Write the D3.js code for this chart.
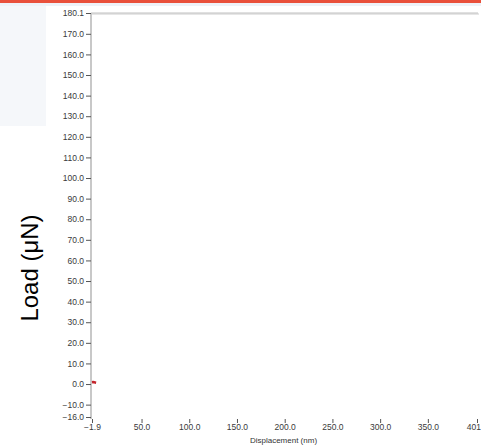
<!DOCTYPE html>
<html>
<head>
<meta charset="utf-8">
<script src="https://cdn.jsdelivr.net/npm/d3@7"></script>
<style>
  body { margin: 0; background: #fff; }
  svg { display: block; }
</style>
</head>
<body>
<svg id="chart" width="481" height="448"></svg>
<script>
// tick values as printed on the instrument plot
var yTicks = [-16.0, -10.0, 0.0, 10.0, 20.0, 30.0, 40.0, 50.0, 60.0, 70.0, 80.0, 90.0,
              100.0, 110.0, 120.0, 130.0, 140.0, 150.0, 160.0, 170.0, 180.1];
var xTicks = [-1.9, 50.0, 100.0, 150.0, 200.0, 250.0, 300.0, 350.0, 401.5];

// the only data visible: a few load points right at the origin
var displacement = [-1.9, -0.8, 0.3, 1.4, 2.4];
var load = [0.9, 1.0, 0.9, 0.7, 0.6];

var svg = d3.select("#chart");

// page decoration: red header strip and pale side panel
svg.append("rect").attr("x", 0).attr("y", 0).attr("width", 481).attr("height", 6).attr("fill", "#eef2f8");
svg.append("rect").attr("x", 0).attr("y", 0).attr("width", 481).attr("height", 3).attr("fill", "#e9503b");
svg.append("rect").attr("x", 0).attr("y", 6).attr("width", 46).attr("height", 120).attr("fill", "#f5f7fa");

var margin = {top: 13, left: 92, right: 477, bottom: 417};

var x = d3.scaleLinear()
    .domain([xTicks[0], xTicks[xTicks.length - 1]])
    .range([margin.left, margin.right]);
var y = d3.scaleLinear()
    .domain([yTicks[0], yTicks[yTicks.length - 1]])
    .range([margin.bottom, margin.top]);

// top border of the plot frame
svg.append("line")
    .attr("x1", margin.left - 1).attr("x2", 479)
    .attr("y1", margin.top + 1).attr("y2", margin.top + 1)
    .attr("stroke", "#e6e6e6").attr("stroke-width", 2);
svg.append("line")
    .attr("x1", margin.left - 1).attr("x2", 478)
    .attr("y1", margin.top).attr("y2", margin.top)
    .attr("stroke", "#c0c0c0");

// y axis
var yAxis = svg.append("g")
    .attr("transform", "translate(" + (margin.left - 1) + ",0)")
    .call(d3.axisLeft(y).tickValues(yTicks).tickFormat(d3.format(".1f")).tickSize(5).tickPadding(2));
yAxis.select(".domain").attr("stroke", "#c8c8c8").attr("stroke-width", 2)
    .attr("d", "M0," + margin.top + "V" + (margin.bottom + 2));
yAxis.selectAll(".tick line").attr("stroke", "#555");
yAxis.selectAll("text")
    .style("font-family", "Liberation Sans, Arial, sans-serif")
    .style("font-size", "8.5px")
    .attr("fill", "#3a3a3a");

// x axis: ticks and labels only
var xAxis = svg.append("g")
    .attr("transform", "translate(0," + (margin.bottom + 2) + ")")
    .call(d3.axisBottom(x).tickValues(xTicks).tickFormat(d3.format(".1f")).tickSize(4).tickPadding(1));
xAxis.select(".domain").remove();
xAxis.selectAll(".tick line").attr("stroke", "#555");
xAxis.selectAll("text")
    .style("font-family", "Liberation Sans, Arial, sans-serif")
    .style("font-size", "8.5px")
    .attr("fill", "#3a3a3a");

// data
var pts = displacement.map(function (d, i) { return [d, load[i]]; });
svg.append("path")
    .datum(pts)
    .attr("fill", "none")
    .attr("stroke", "#c3242b")
    .attr("stroke-width", 2.5)
    .attr("d", d3.line().x(d => x(d[0])).y(d => y(d[1])));

// axis titles
svg.append("text")
    .attr("x", (margin.left + margin.right) / 2 - 1)
    .attr("y", 443)
    .attr("text-anchor", "middle")
    .style("font-family", "Liberation Sans, Arial, sans-serif")
    .style("font-size", "8px")
    .attr("fill", "#333")
    .text("Displacement (nm)");

svg.append("text")
    .attr("transform", "translate(38,268) rotate(-90)")
    .attr("text-anchor", "middle")
    .style("font-family", "Liberation Sans, Arial, sans-serif")
    .style("font-size", "24px")
    .attr("fill", "#000")
    .text("Load (μN)");
</script>
</body>
</html>
